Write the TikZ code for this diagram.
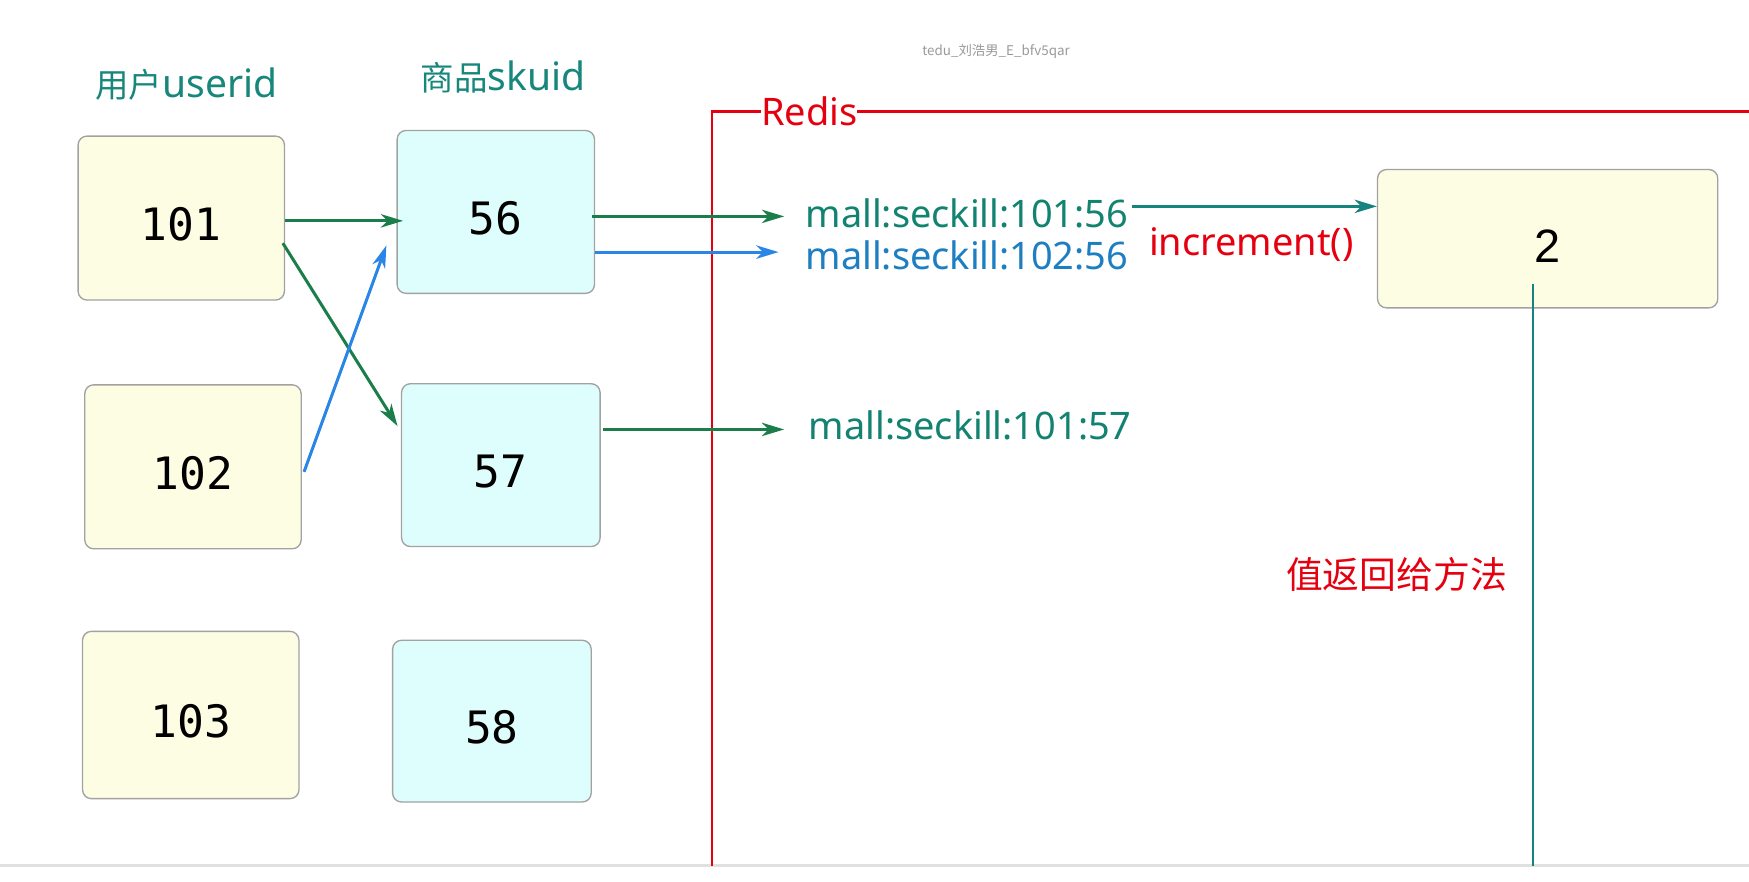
\documentclass[tikz,border=0pt]{standalone}
\usepackage{fontspec}
\setmainfont{Noto Sans}
\newfontfamily\cjkfont{Noto Sans CJK SC}
\newfontfamily\numfont{DejaVu Sans Mono}
\newfontfamily\arialfont{Liberation Sans}
\usetikzlibrary{arrows.meta}
\definecolor{uyellow}{HTML}{FDFDE3}
\definecolor{scyan}{HTML}{DEFEFD}
\definecolor{boxgray}{HTML}{A2A2A2}
\definecolor{headteal}{HTML}{17877C}
\definecolor{agreen}{HTML}{1B7E4A}
\definecolor{ablue}{HTML}{2A86E6}
\definecolor{kgreen}{HTML}{128371}
\definecolor{kblue}{HTML}{1E7EC2}
\definecolor{rred}{HTML}{E6000F}
\definecolor{tteal}{HTML}{16847E}
\definecolor{wmgray}{HTML}{9A9A9A}
\begin{document}
\begin{tikzpicture}[x=1pt,y=-1pt,
  ubox/.style={draw=boxgray, line width=1.2pt, fill=uyellow, rounded corners=8pt,
    inner sep=0pt, text height=40pt, text depth=0pt,
    font=\numfont\fontsize{40}{44}\selectfont},
  sbox/.style={ubox, fill=scyan},
  lbl/.style={inner sep=0pt, font=\fontsize{34}{40}\selectfont},
  head/.style={inner sep=0pt, text=headteal, font=\fontsize{35}{40}\selectfont},
  arr/.style={line width=2.7pt, -{Stealth[length=20pt,width=12pt,inset=6pt]}},
]
\useasboundingbox (0,0) rectangle (1568,790);
\fill[white] (0,0) rectangle (1568,790);

% bottom window border
\coordinate (gl) at (0,776);
\coordinate (gr) at (1568,776);
\draw[line width=2pt, black!12] (gl) -- (gr);

% watermark
\node[inner sep=0pt, text=wmgray, font=\cjkfont\fontsize{12}{14}\selectfont] (wm) at (893,46) {tedu\_刘浩男\_E\_bfv5qar};

% headings
\node[head] (h1) at (167,75) {{\cjkfont\fontsize{30}{36}\selectfont 用户}userid};
\node[head] (h2) at (451,69) {{\cjkfont\fontsize{30}{36}\selectfont 商品}skuid};

% user boxes
\node[ubox, minimum width=185pt, minimum height=147pt] (u101) at (162.5,195.5) {101};
\node[ubox, minimum width=194pt, minimum height=147pt] (u102) at (173,418.5) {102};
\node[ubox, minimum width=194pt, minimum height=150pt] (u103) at (171,641) {103};

% sku boxes
\node[sbox, minimum width=177pt, minimum height=146pt] (s56) at (444.5,190) {56};
\node[sbox, minimum width=178pt, minimum height=146pt] (s57) at (449,417) {57};
\node[sbox, minimum width=178pt, minimum height=145pt] (s58) at (441,646.5) {58};

% Redis frame
\coordinate (fb) at (638,776);
\coordinate (ftl) at (638,100);
\coordinate (fr) at (1568,100);
\draw[rred, line width=2pt] (fb) -- (ftl) -- (fr);
\node[lbl, text=rred, fill=white] (redis) at (725.5,100) {Redis};

% keys
\node[lbl, text=kgreen, anchor=west] (k1) at (722,191) {mall:seckill:101:56};
\node[lbl, text=kblue, anchor=west] (k2) at (722,229) {mall:seckill:102:56};
\node[lbl, text=kgreen, anchor=west] (k3) at (725,381) {mall:seckill:101:57};
\node[lbl, text=rred, anchor=west] (inc) at (1030,219) {increment()};

% value box
\node[ubox, font=\arialfont\fontsize{42}{46}\selectfont, text height=42pt,
  minimum width=305pt, minimum height=124pt] (box2) at (1387.5,214) {2};

\node[inner sep=0pt, text=rred, font=\cjkfont\fontsize{33}{38}\selectfont] (val) at (1252,515) {值返回给方法};

% arrows from users to skus
\draw[arr, agreen] ([yshift=-2.5pt]u101.east) -- ([xshift=6pt,yshift=-8pt]s56.west);
\draw[arr, agreen] ([xshift=-2pt,yshift=-22.5pt]u101.east) -- ([xshift=-3pt,yshift=35pt]s57.west);
\draw[arr, ablue] ([xshift=2pt,yshift=-4.5pt]u102.east) -- ([xshift=-9pt,yshift=-30pt]s56.west);

% arrows from skus to keys
\draw[arr, agreen] ([xshift=-3pt,yshift=-4pt]s56.east) -- ([xshift=-19pt,yshift=-3pt]k1.west);
\draw[arr, ablue] ([yshift=-36pt]s56.east) -- ([xshift=-24pt,yshift=3pt]k2.west);
\draw[arr, agreen] ([xshift=2pt,yshift=32pt]s57.east) -- ([xshift=-22pt,yshift=-4pt]k3.west);

% key to value
\draw[arr, tteal] ([xshift=3pt,yshift=6pt]k1.east) -- ([yshift=29pt]box2.west);

% return line
\coordinate (tb) at (1374,776);
\draw[tteal, line width=1.6pt] ([xshift=-13.5pt,yshift=-41pt]box2.center) -- (tb);
\end{tikzpicture}
\end{document}
